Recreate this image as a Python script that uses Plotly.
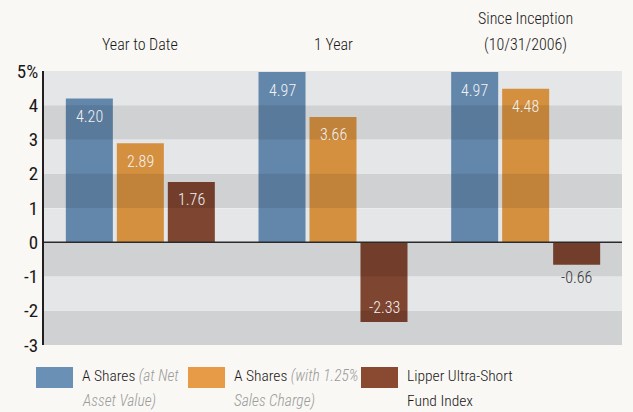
import plotly.graph_objects as go

categories = ["Year to Date", "1 Year", "Since Inception<br>(10/31/2006)"]
cat_keys = ["ytd", "1y", "si"]
nav_values = [4.20, 4.97, 4.97]
sales_values = [2.89, 3.66, 4.48]
lipper_values = [1.76, -2.33, -0.66]
y_ticks = [5, 4, 3, 2, 1, 0, -1, -2, -3]
y_ticklabels = ["5%", "4", "3", "2", "1", "0", "-1", "-2", "-3"]
dark_bands = [(3, 4), (1, 2), (-1, 0), (-3, -2)]

FONT = "Roboto Condensed, Lato, sans-serif"
W300 = 300
W400 = 400
BG = "#f9f8f4"
bar_colors = ["#6287ab", "#d5903f", "#7e4530"]
swatch_colors = ["#6b90b5", "#e89b47", "#8a4a32"]

PW, PH = 578.0, 274.0
SLOT = 51  # px per bar slot within a group
def px_x(px):
    return (px - 44) / PW
def px_y(py):
    return (345 - py) / PH

fig = go.Figure()
annotations = []
series = [nav_values, sales_values, lipper_values]
for i, (vals, col) in enumerate(zip(series, bar_colors)):
    fig.add_trace(go.Bar(
        x=cat_keys, y=vals, marker=dict(color=col, line=dict(width=0)),
        showlegend=False, hoverinfo="skip",
    ))
    for key, v in zip(cat_keys, vals):
        inside = abs(v) >= 1
        if v >= 0:
            ys = -18
        else:
            ys = 15 if inside else -13
        annotations.append(dict(
            x=key, y=v, xref="x", yref="y", text=f"{v:.2f}", showarrow=False,
            xshift=(i - 1) * SLOT, yshift=ys, yanchor="middle",
            font=dict(family=FONT, size=16, weight=W300,
                      color="#f2f2f2" if inside else "#333333"),
        ))

shapes = []
for lo, hi in dark_bands:
    shapes.append(dict(type="rect", xref="paper", yref="y", x0=0, x1=1, y0=lo, y1=hi,
                       fillcolor="rgba(0,0,0,0.09)", line=dict(width=0), layer="above"))
shapes.append(dict(type="line", xref="paper", yref="y", x0=0, x1=1, y0=0, y1=0,
                   line=dict(color="#2a2a2a", width=1.5), layer="above"))

for key, cat in zip(cat_keys, categories):
    lines = cat.split("<br>")
    for k, line in enumerate(reversed(lines)):
        annotations.append(dict(x=key, xref="x", y=px_y(44 - 26 * k), yref="paper", text=line,
                                showarrow=False, yanchor="middle",
                                font=dict(family=FONT, size=16, weight=W300, color="#1a1718")))

legend_items = [
    (36, 80, "A Shares <i><span style='color:#9b9b9b'>(at Net</span></i>", "<i>Asset Value)</i>", "#9b9b9b"),
    (188, 232, "A Shares <i><span style='color:#9b9b9b'>(with 1.25%</span></i>", "<i>Sales Charge)</i>", "#9b9b9b"),
    (361, 405, "Lipper Ultra-Short", "Fund Index", "#1a1718"),
]
for (sx, tx, l1, l2, c2), sc in zip(legend_items, swatch_colors):
    shapes.append(dict(type="rect", xref="paper", yref="paper",
                       x0=px_x(sx), x1=px_x(sx + 37), y0=px_y(367), y1=px_y(388),
                       fillcolor=sc, line=dict(width=0)))
    annotations.append(dict(x=px_x(tx), y=px_y(376), xref="paper", yref="paper", text=l1,
                            showarrow=False, xanchor="left", yanchor="middle",
                            font=dict(family=FONT, size=15.5, weight=W300, color="#1a1718")))
    annotations.append(dict(x=px_x(tx), y=px_y(401), xref="paper", yref="paper", text=l2,
                            showarrow=False, xanchor="left", yanchor="middle",
                            font=dict(family=FONT, size=15.5, weight=W300, color=c2)))

fig.update_layout(
    width=633, height=412,
    margin=dict(l=44, r=11, t=71, b=67),
    paper_bgcolor=BG, plot_bgcolor="#e5e6e8",
    barmode="group", bargap=0.206, bargroupgap=0.078,
    shapes=shapes, annotations=annotations,
    xaxis=dict(showticklabels=False, showgrid=False, zeroline=False, ticks="",
               categoryorder="array", categoryarray=cat_keys),
    yaxis=dict(range=[-3, 5], tickvals=y_ticks, ticktext=y_ticklabels,
               showgrid=True, gridcolor="#ebecee", gridwidth=1, zeroline=False,
               showline=True, linecolor="#231f20", linewidth=2, ticks="",
               tickfont=dict(family=FONT, size=19, weight=W400, color="#1a1718")),
    font=dict(family=FONT),
)

fig.write_html("out.html", config={"displayModeBar": False},
               post_script="document.body.style.margin='0';document.body.style.background='#f9f8f4';")
